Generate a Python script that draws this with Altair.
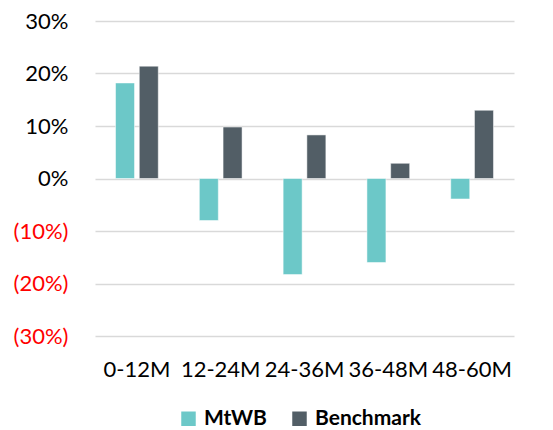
import altair as alt
import pandas as pd

periods = ["0-12M", "12-24M", "24-36M", "36-48M", "48-60M"]
mtwb = [0.182, -0.080, -0.183, -0.160, -0.039]
benchmark = [0.214, 0.098, 0.083, 0.029, 0.130]
series_names = ["MtWB", "Benchmark"]
colors = ["#6CC8C8", "#525E66"]
y_ticks = [-0.3, -0.2, -0.1, 0, 0.1, 0.2, 0.3]

rows = []
for p, a, b in zip(periods, mtwb, benchmark):
    rows.append({"period": p, "series": series_names[0], "value": a})
    rows.append({"period": p, "series": series_names[1], "value": b})
df = pd.DataFrame(rows)

FONT = "Lato"

chart = alt.Chart(df).mark_bar(stroke="white", strokeWidth=0.5).encode(
    x=alt.X("period:N", sort=periods, title=None,
            scale=alt.Scale(paddingInner=0.49, paddingOuter=0.245),
            axis=alt.Axis(labelAngle=0, labelFontSize=22, labelColor="#000000",
                          labelFont=FONT, ticks=False, domain=False, labelPadding=23)),
    xOffset=alt.XOffset("series:N", sort=series_names,
                        scale=alt.Scale(paddingInner=0.2, paddingOuter=0)),
    y=alt.Y("value:Q", title=None,
            scale=alt.Scale(domain=[-0.3, 0.3], nice=False),
            axis=alt.Axis(values=y_ticks,
                          labelExpr="datum.value < 0 ? '(' + format(-datum.value, '.0%') + ')' : format(datum.value, '.0%')",
                          labelColor={"condition": {"test": "datum.value < 0", "value": "#FF0000"}, "value": "#000000"},
                          labelFontSize=22, labelFont=FONT, ticks=False, domain=False,
                          labelPadding=27, gridColor="#D9D9D9", gridWidth=1.5)),
    color=alt.Color("series:N", sort=series_names,
                    scale=alt.Scale(domain=series_names, range=colors),
                    legend=alt.Legend(title=None, orient="none", direction="horizontal",
                                      legendX=83, legendY=387,
                                      symbolType="square", symbolSize=210, symbolStrokeWidth=0,
                                      labelFontSize=21, labelFontWeight="bold", labelFont=FONT,
                                      labelOffset=5, labelColor="#000000", columnPadding=22)),
).properties(
    width=419, height=315,
    padding={"left": 5, "top": 2, "right": 5, "bottom": 5},
).configure_view(stroke=None)

chart.save("out.html", embed_options={"renderer": "svg", "actions": False})
